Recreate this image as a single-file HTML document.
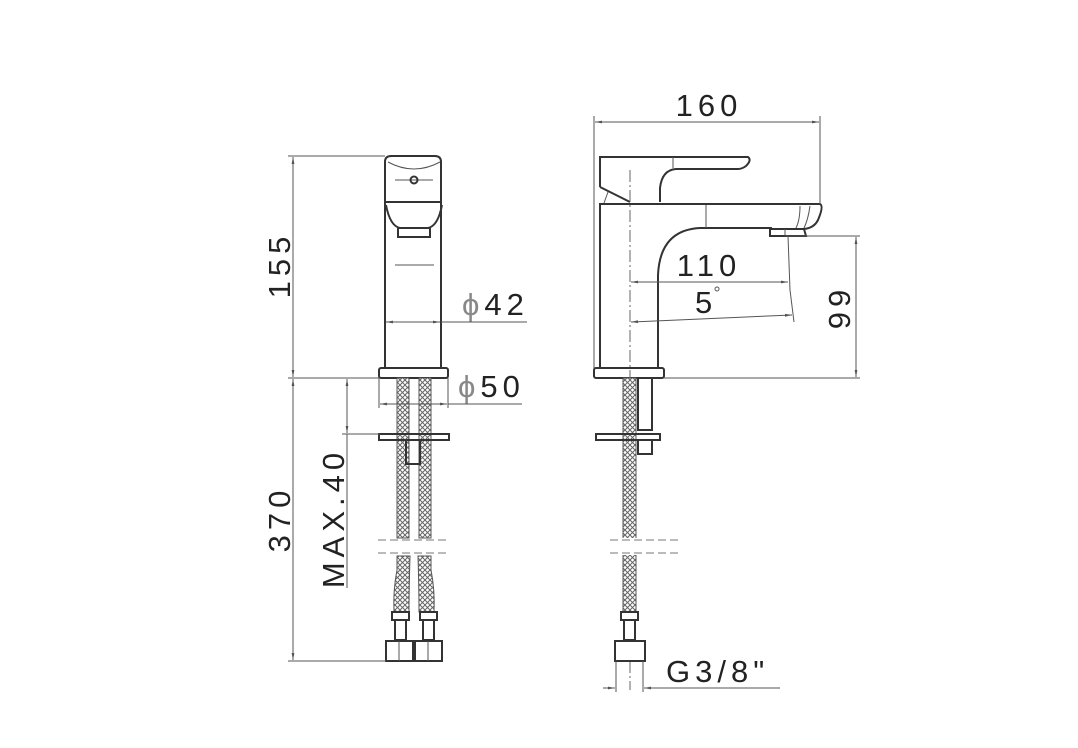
<!DOCTYPE html>
<html><head><meta charset="utf-8"><style>
html,body{margin:0;padding:0;background:#fff}
svg{display:block}
text{font-family:"Liberation Sans",sans-serif;font-size:31px;fill:#222;letter-spacing:5px}
.o{stroke:#333;stroke-width:2;fill:none}
.t{stroke:#555;stroke-width:1;fill:none}
.c{stroke:#666;stroke-width:1;fill:none;stroke-dasharray:12 3 2 3}
.d{stroke:#777;stroke-width:1;fill:none;stroke-dasharray:8 4}
.hz{stroke:#555;stroke-width:1}
</style></head><body>
<svg width="1078" height="748" viewBox="0 0 1078 748" xmlns="http://www.w3.org/2000/svg">
<defs>
<pattern id="h" x="0" y="0" width="5" height="5" patternUnits="userSpaceOnUse">
<rect width="5" height="5" fill="#fff"/>
<path d="M0 0L5 5M5 0L0 5" stroke="#666" stroke-width="1"/>
</pattern>
<marker id="a" viewBox="0 0 10 10" refX="10" refY="5" markerWidth="7" markerHeight="7" orient="auto-start-reverse"><path d="M0 3L10 5L0 7" fill="#555"/></marker>
</defs>

<!-- LEFT VIEW -->
<path class="o" d="M385 368V162Q385 156 391 156H435Q441 156 441 162V368"/>
<path class="t" d="M388 162Q414 176 440 162"/>
<line class="t" x1="395" y1="180" x2="433" y2="180"/>
<circle cx="414" cy="180" r="3.5" class="o"/>
<line class="o" x1="385" y1="202" x2="441" y2="202"/>
<path class="o" d="M386 205Q390 226 400 228H428Q438 226 442 205"/>
<rect x="398" y="228" width="32" height="9" class="o"/>
<line class="t" x1="395" y1="265" x2="434" y2="265"/>
<rect x="379" y="368" width="69" height="10" rx="2" class="o"/>
<!-- hoses -->
<rect x="397" y="378" width="12" height="160" fill="url(#h)" class="hz"/>
<rect x="419" y="378" width="12" height="160" fill="url(#h)" class="hz"/>
<path d="M397 556L397 570Q393 590 394 612H409Q409 590 410 556Z" fill="url(#h)" class="hz"/>
<path d="M431 556L431 570Q435 590 434 612H419Q419 590 418 556Z" fill="url(#h)" class="hz"/>
<rect x="379" y="434" width="70" height="6" class="o" fill="#fff"/>
<rect x="406" y="440" width="14" height="24" class="o" fill="#fff"/>
<line class="d" x1="378" y1="540" x2="450" y2="540"/>
<line class="d" x1="378" y1="553" x2="450" y2="553"/>
<rect x="392" y="612" width="17" height="8" class="o"/><rect x="395" y="620" width="11" height="20" class="o"/>
<rect x="420" y="612" width="17" height="8" class="o"/><rect x="423" y="620" width="11" height="20" class="o"/>
<rect x="386" y="641" width="27" height="20" class="o"/><line class="t" x1="399" y1="641" x2="399" y2="661"/>
<rect x="415" y="641" width="27" height="20" class="o"/><line class="t" x1="428" y1="641" x2="428" y2="661"/>
<!-- dims left -->
<line class="t" x1="288" y1="156" x2="385" y2="156"/>
<line class="t" x1="288" y1="378" x2="380" y2="378"/>
<line class="t" x1="288" y1="661" x2="386" y2="661"/>
<line class="t" x1="293" y1="157" x2="293" y2="377" marker-start="url(#a)" marker-end="url(#a)"/>
<line class="t" x1="293" y1="379" x2="293" y2="660" marker-start="url(#a)" marker-end="url(#a)"/>
<text transform="translate(290 265) rotate(-90)" text-anchor="middle">155</text>
<text transform="translate(290 519) rotate(-90)" text-anchor="middle">370</text>
<line class="t" x1="342" y1="434" x2="380" y2="434"/>
<line class="t" x1="347" y1="379" x2="347" y2="433" marker-start="url(#a)" marker-end="url(#a)"/>
<line class="t" x1="347" y1="434" x2="347" y2="588"/>
<text transform="translate(344 518) rotate(-90)" text-anchor="middle">MAX.40</text>
<line class="t" x1="386" y1="322" x2="440" y2="322" marker-start="url(#a)" marker-end="url(#a)"/>
<line class="t" x1="441" y1="322" x2="527" y2="322"/>
<text x="462" y="315" letter-spacing="4"><tspan fill="#888">ϕ</tspan>42</text>
<line class="t" x1="379" y1="378" x2="379" y2="408"/><line class="t" x1="448" y1="378" x2="448" y2="408"/>
<line class="t" x1="380" y1="404" x2="447" y2="404" marker-start="url(#a)" marker-end="url(#a)"/>
<line class="t" x1="448" y1="404" x2="522" y2="404"/>
<text x="458" y="397" letter-spacing="4"><tspan fill="#888">ϕ</tspan>50</text>

<!-- RIGHT VIEW -->
<path class="o" d="M600 187V157H748Q752 160 746 166Q742 169 738 169H676Q662 170 660 188V202"/>
<path class="o" d="M600 187L630 202"/>
<path class="t" d="M604 203L608 192"/>
<line class="t" x1="673" y1="157" x2="673" y2="168"/>
<path class="o" d="M600 368V204H820Q824 206 818 220Q814 228 804 229"/>
<path class="t" d="M810 206Q808 220 804 228M800 206Q800 220 796 228"/>
<path class="o" d="M658 368V275Q660 230 700 228H772"/>
<line class="t" x1="706" y1="205" x2="706" y2="228"/>
<path class="o" d="M770 229H804L806 236H770Z"/>
<line class="t" x1="785" y1="229" x2="785" y2="236"/>
<rect x="594" y="368" width="70" height="10" rx="2" class="o"/>
<rect x="623" y="378" width="13" height="234" fill="url(#h)" class="hz"/>
<line class="c" x1="630" y1="170" x2="630" y2="378"/>
<line class="c" x1="630" y1="661" x2="630" y2="690"/>
<rect x="596" y="434" width="64" height="6" class="o" fill="#fff"/>
<rect x="638" y="378" width="14" height="52" class="o"/>
<rect x="638" y="440" width="14" height="14" class="o"/>
<rect x="610" y="538" width="72" height="17" fill="#fff"/>
<line class="d" x1="610" y1="540" x2="682" y2="540"/>
<line class="d" x1="610" y1="553" x2="682" y2="553"/>
<rect x="621" y="612" width="17" height="8" class="o"/><rect x="624" y="620" width="11" height="20" class="o"/>
<rect x="615" y="641" width="30" height="20" class="o"/>
<!-- dims right -->
<line class="t" x1="594" y1="116" x2="594" y2="368"/>
<line class="t" x1="820" y1="116" x2="820" y2="204"/>
<line class="t" x1="595" y1="122" x2="819" y2="122" marker-start="url(#a)" marker-end="url(#a)"/>
<text x="709" y="116" text-anchor="middle">160</text>
<line class="t" x1="786" y1="236" x2="860" y2="236"/>
<line class="t" x1="664" y1="378" x2="860" y2="378"/>
<line class="t" x1="856" y1="237" x2="856" y2="377" marker-start="url(#a)" marker-end="url(#a)"/>
<text transform="translate(850 307) rotate(-90)" text-anchor="middle">99</text>
<line class="t" x1="788" y1="236" x2="790" y2="290"/>
<line class="t" x1="631" y1="282" x2="788" y2="282" marker-start="url(#a)" marker-end="url(#a)"/>
<text x="709" y="276" text-anchor="middle">110</text>
<line class="t" x1="790" y1="290" x2="794" y2="322"/>
<line class="t" x1="631" y1="322" x2="792" y2="315" marker-start="url(#a)" marker-end="url(#a)"/>
<text x="695" y="313">5</text>
<circle cx="717" cy="289" r="2" class="t"/>
<line class="t" x1="616" y1="661" x2="616" y2="692"/><line class="t" x1="643" y1="661" x2="643" y2="692"/>
<line class="t" x1="603" y1="688" x2="615" y2="688" marker-end="url(#a)"/>
<line class="t" x1="644" y1="688" x2="780" y2="688" marker-start="url(#a)"/>
<text x="666" y="682">G3/8"</text>
</svg>
</body></html>
